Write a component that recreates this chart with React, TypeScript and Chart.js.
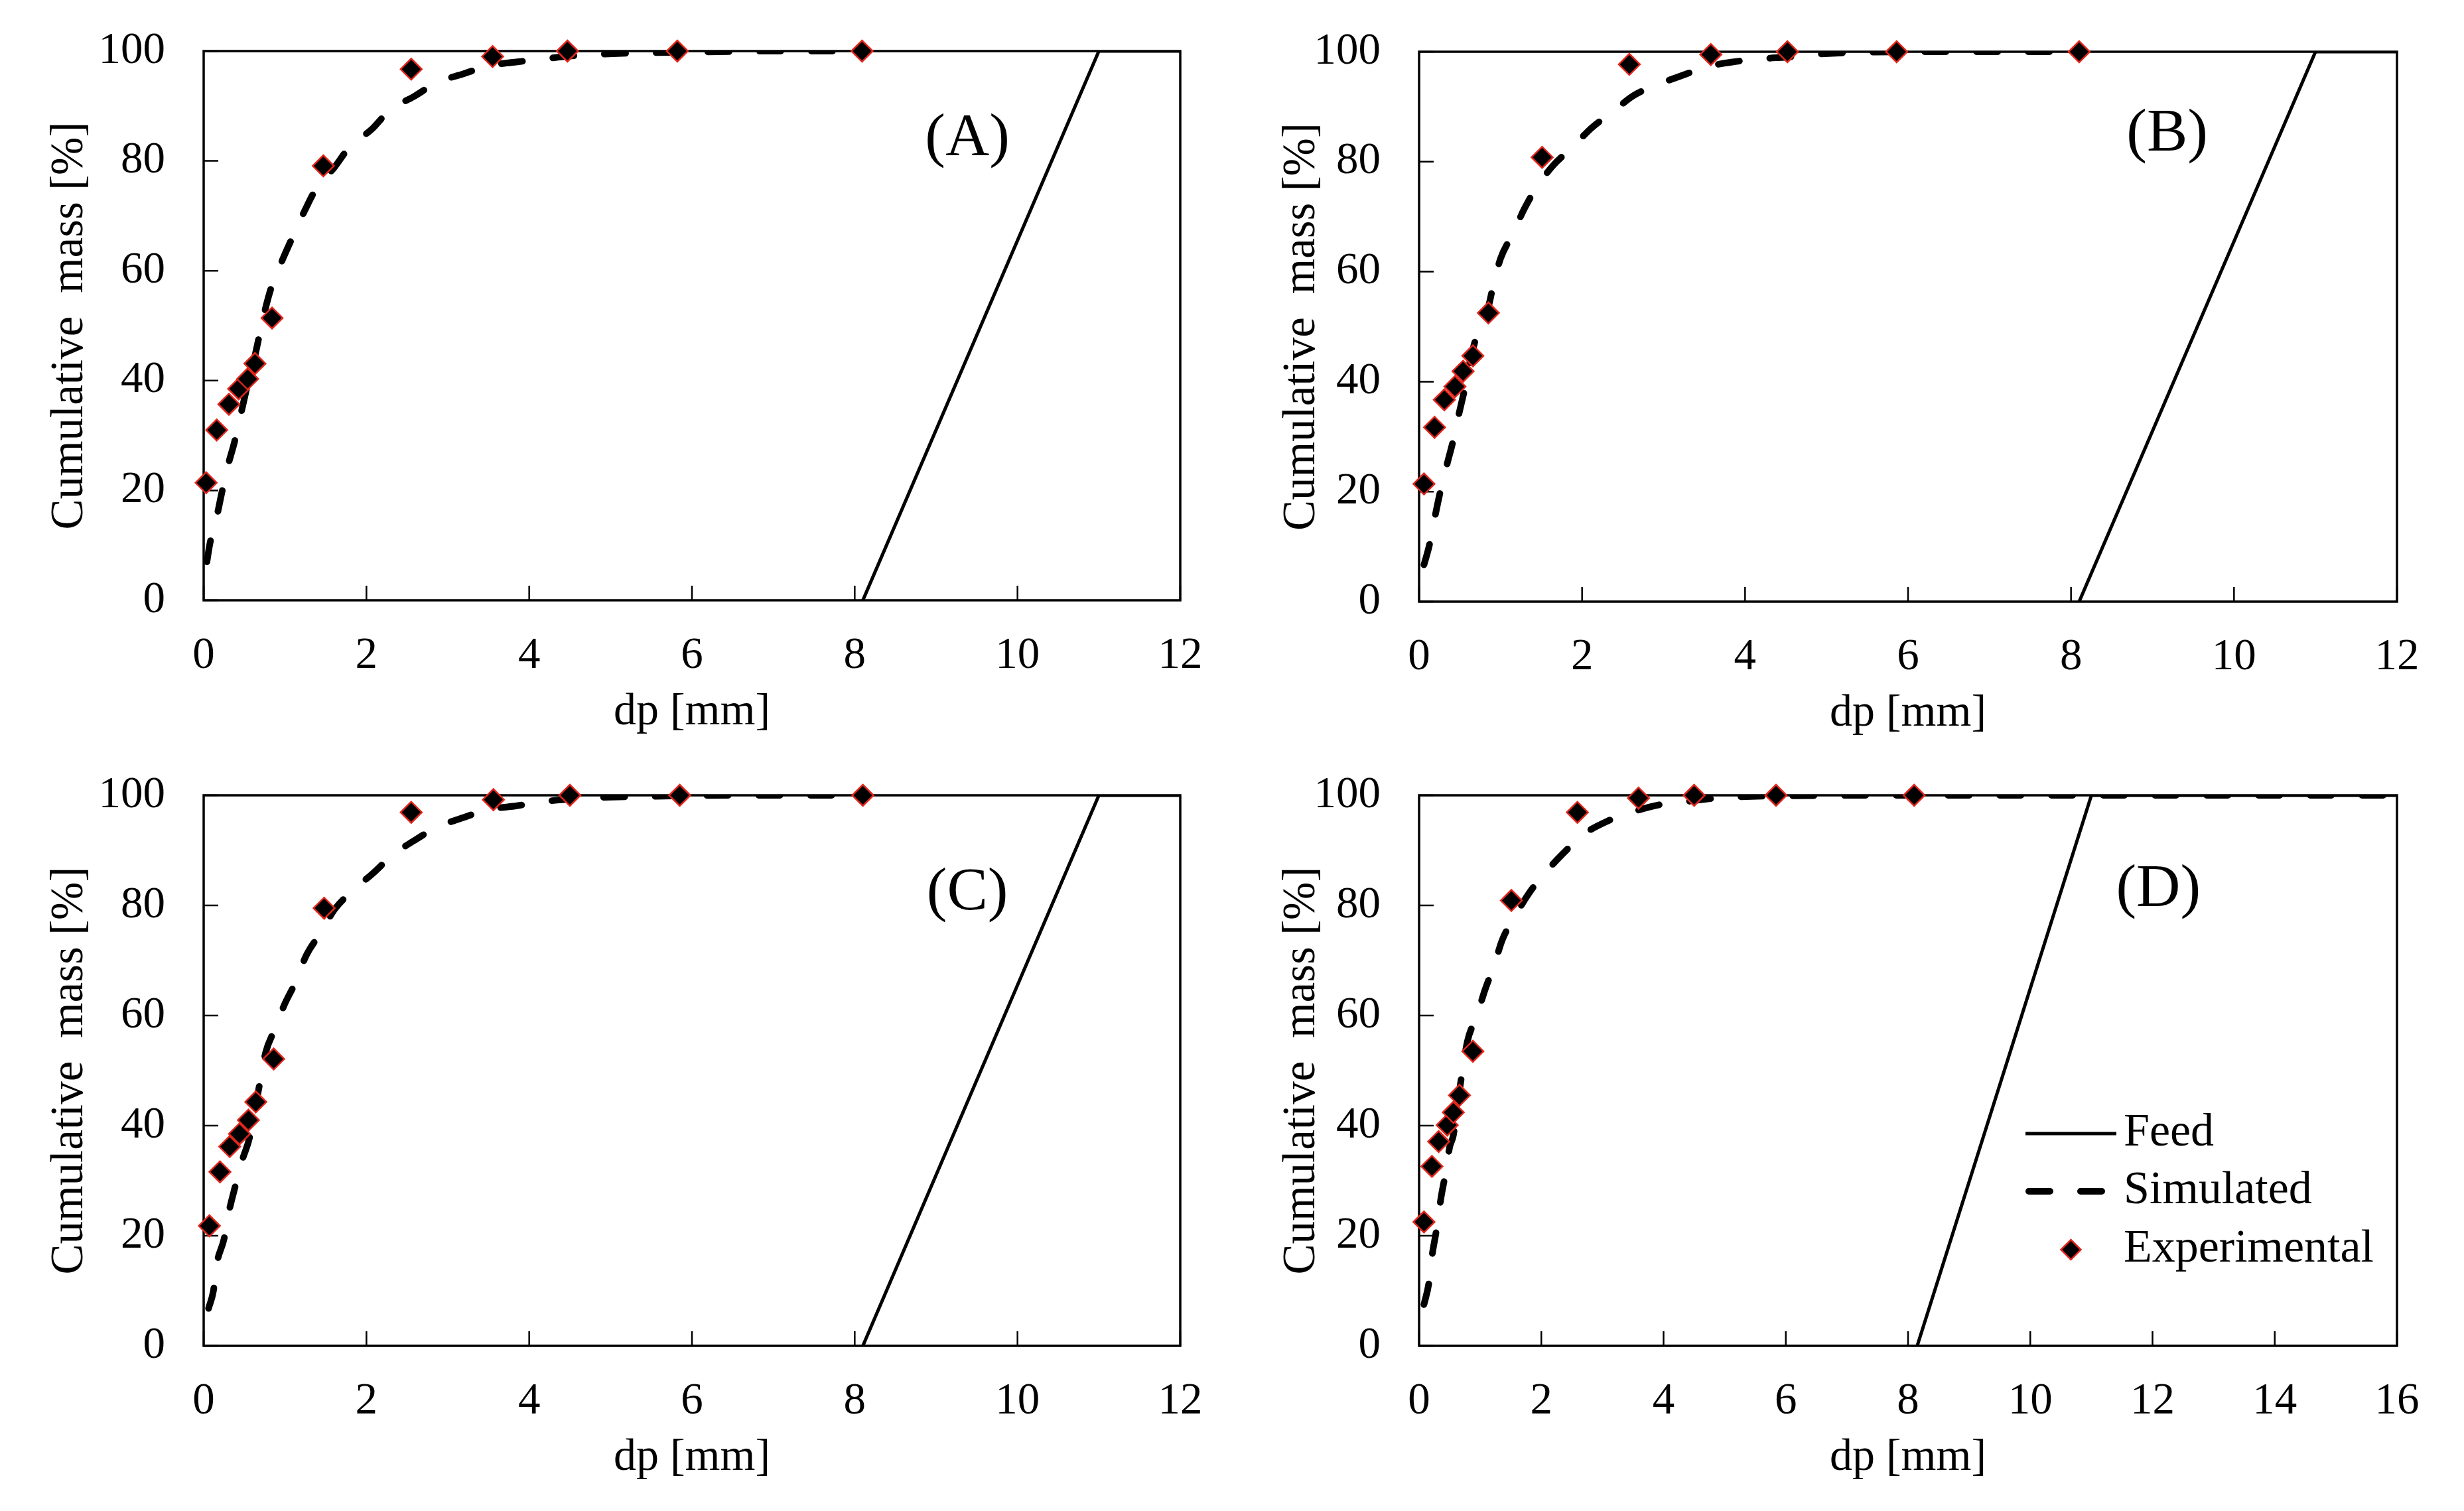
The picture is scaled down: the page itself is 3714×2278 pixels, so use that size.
import React, { useEffect, useRef } from 'react';
import { Chart, registerables } from 'chart.js';

Chart.register(...registerables);

const FONT = '"Liberation Serif", "Times New Roman", serif';
const W = 1857;
const H = 1139;

// Panel A
const expAX = [0.03, 0.16, 0.31, 0.43, 0.54, 0.63, 0.84, 1.47, 2.55, 3.55, 4.47, 5.82, 8.09];
const expAY = [21.4, 31.0, 35.7, 38.5, 40.3, 43.1, 51.4, 79.1, 96.7, 99.0, 100, 100, 100];
const simAX = [0.04, 0.07, 0.11, 0.16, 0.22, 0.3, 0.38, 0.46, 0.54, 0.61, 0.68, 0.75, 0.84, 0.98, 1.11, 1.24, 1.4, 1.6, 1.8, 2.06, 2.29, 2.58, 2.87, 3.18, 3.53, 3.84, 4.19, 4.6, 5.2, 6.0, 7.0, 8.1];
const simAY = [7, 9.8, 12.5, 15.2, 19.4, 24.6, 28.9, 34.1, 39.3, 43.2, 47.9, 52.6, 57.4, 62.4, 66.7, 70.9, 75.4, 78.7, 82.7, 85.7, 89.3, 91.7, 94.3, 95.8, 97.4, 98.0, 98.6, 99.2, 99.6, 99.8, 100, 100];

// Panel B
const expBX = [0.06, 0.19, 0.31, 0.44, 0.54, 0.66, 0.85, 1.51, 2.58, 3.58, 4.52, 5.86, 8.1];
const expBY = [21.4, 31.7, 36.7, 39.1, 41.9, 44.7, 52.5, 80.8, 97.7, 99.5, 100, 100, 100];
const simBX = [0.06, 0.125, 0.19, 0.26, 0.34, 0.42, 0.49, 0.56, 0.63, 0.7, 0.78, 0.85, 0.91, 1.0, 1.15, 1.29, 1.44, 1.65, 1.88, 2.12, 2.37, 2.63, 2.92, 3.25, 3.54, 3.88, 4.19, 4.58, 4.83, 5.2, 6.5, 8.1];
const simBY = [6.7, 10.2, 15.1, 20, 24.8, 29.4, 34.2, 38.7, 44, 48, 51, 53.6, 57.5, 62.4, 66.9, 71.4, 75.3, 79.4, 82.6, 86.2, 89, 92, 94, 95.8, 97.3, 98.2, 98.7, 99.1, 99.5, 99.8, 100, 100];

// Panel C
const expCX = [0.07, 0.2, 0.32, 0.44, 0.55, 0.64, 0.86, 1.48, 2.55, 3.56, 4.5, 5.85, 8.1];
const expCY = [21.8, 31.6, 36.2, 38.5, 41, 44.3, 52.1, 79.5, 96.9, 99.2, 100, 100, 100];
const simCX = [0.06, 0.12, 0.16, 0.25, 0.31, 0.39, 0.48, 0.56, 0.63, 0.7, 0.76, 0.87, 0.99, 1.13, 1.26, 1.44, 1.61, 1.84, 2.07, 2.32, 2.61, 2.88, 3.2, 3.5, 3.85, 4.15, 4.57, 4.82, 5.5, 6.5, 8.1];
const simCY = [6.8, 10, 14.8, 19.4, 24.3, 29.1, 34, 37.6, 43, 48.5, 53.2, 57.4, 61.9, 66.1, 70.9, 75.1, 79.3, 82.8, 85.7, 89.1, 92, 94.3, 96, 97.4, 98.1, 98.8, 99.4, 99.6, 99.8, 100, 100];

// Panel D
const expDX = [0.08, 0.21, 0.32, 0.46, 0.56, 0.66, 0.88, 1.51, 2.59, 3.59, 4.5, 5.84, 8.1];
const expDY = [22.5, 32.6, 37.1, 40.1, 42.4, 45.5, 53.5, 80.9, 96.9, 99.5, 100, 100, 100];
const simDX = [0.08, 0.16, 0.21, 0.28, 0.36, 0.43, 0.5, 0.56, 0.63, 0.71, 0.79, 0.94, 1.08, 1.23, 1.36, 1.56, 1.81, 2.06, 2.39, 2.69, 3.08, 3.47, 3.94, 4.33, 4.78, 5.19, 6, 8, 16];
const simDY = [7.5, 11.4, 16.2, 20.8, 27, 31.2, 36.1, 38.2, 44, 50, 55.3, 59.8, 64.7, 69.2, 73.7, 77.9, 82.4, 85.9, 89.8, 92.9, 95.3, 96.9, 98.3, 98.8, 99.4, 99.7, 99.9, 100, 100];

// Feed
const feedX = [8.1, 11, 12];
const feedY = [0, 100, 100];
const feedDX = [8.15, 11, 16];
const feedDY = [0, 100, 100];

const legendLabels = ['Feed', 'Simulated', 'Experimental'];

const zip = (xs: number[], ys: number[]) => xs.map((x, i) => ({ x, y: ys[i] }));

const DASH = [32, 46];
const RED = '#e3261c';

interface PanelProps {
  label: string;
  expX: number[];
  expY: number[];
  simX: number[];
  simY: number[];
  fX: number[];
  fY: number[];
  xMax: number;
  left: number;
  top: number;
  plotLeft: number;
  plotRight: number;
  plotTop: number;
  plotBottom: number;
  labelFx: number;
  labelFy: number;
  legend?: boolean;
}

const Panel: React.FC<PanelProps> = (p) => {
  const ref = useRef<HTMLCanvasElement>(null);

  useEffect(() => {
    if (!ref.current) return;
    const decor = {
      id: 'decor',
      beforeDatasetsDraw(chart: any) {
        const { ctx, chartArea: a, scales } = chart;
        ctx.save();
        ctx.strokeStyle = '#000';
        ctx.lineWidth = 2.5;
        ctx.beginPath();
        scales.x.ticks.forEach((t: any) => {
          const px = scales.x.getPixelForValue(t.value);
          ctx.moveTo(px, a.bottom);
          ctx.lineTo(px, a.bottom - 22);
        });
        scales.y.ticks.forEach((t: any) => {
          const py = scales.y.getPixelForValue(t.value);
          ctx.moveTo(a.left, py);
          ctx.lineTo(a.left + 22, py);
        });
        ctx.stroke();
        ctx.lineWidth = 3.5;
        ctx.strokeRect(a.left, a.top, a.right - a.left, a.bottom - a.top);
        ctx.restore();
      },
      afterDraw(chart: any) {
        const { ctx, chartArea: a } = chart;
        ctx.save();
        ctx.fillStyle = '#000';
        ctx.font = `92px ${FONT}`;
        ctx.textAlign = 'center';
        ctx.textBaseline = 'middle';
        ctx.fillText(p.label, a.left + p.labelFx * (a.right - a.left), a.top + p.labelFy * (a.bottom - a.top));
        if (p.legend) {
          const x0 = a.left + 914;
          const x1 = a.left + 1051;
          const tx = a.left + 1062;
          const rows = [a.top + 510, a.top + 597, a.top + 685];
          ctx.strokeStyle = '#000';
          ctx.lineWidth = 5;
          ctx.beginPath();
          ctx.moveTo(x0, rows[0]);
          ctx.lineTo(x1, rows[0]);
          ctx.stroke();
          ctx.lineWidth = 10;
          ctx.lineCap = 'round';
          ctx.setLineDash(DASH);
          ctx.beginPath();
          ctx.moveTo(x0 + 5, rows[1]);
          ctx.lineTo(x1, rows[1]);
          ctx.stroke();
          ctx.setLineDash([]);
          const cx = (x0 + x1) / 2;
          const r = 15;
          ctx.beginPath();
          ctx.moveTo(cx - r, rows[2]);
          ctx.lineTo(cx, rows[2] - r);
          ctx.lineTo(cx + r, rows[2]);
          ctx.lineTo(cx, rows[2] + r);
          ctx.closePath();
          ctx.fillStyle = '#000';
          ctx.fill();
          ctx.lineWidth = 2.5;
          ctx.strokeStyle = RED;
          ctx.stroke();
          ctx.fillStyle = '#000';
          ctx.font = `70px ${FONT}`;
          ctx.textAlign = 'left';
          legendLabels.forEach((t, i) => ctx.fillText(t, tx, rows[i]));
        }
        ctx.restore();
      },
    };

    const tickFont = { family: FONT, size: 67 };
    const chart = new Chart(ref.current, {
      type: 'scatter',
      data: {
        datasets: [
          {
            label: 'Experimental',
            data: zip(p.expX, p.expY),
            showLine: false,
            pointStyle: 'rectRot',
            pointRadius: 16,
            pointHoverRadius: 16,
            pointBackgroundColor: '#000',
            pointBorderColor: RED,
            pointBorderWidth: 2.5,
            clip: false,
          },
          {
            label: 'Simulated',
            data: zip(p.simX, p.simY),
            showLine: true,
            borderColor: '#000',
            borderWidth: 10,
            borderDash: DASH,
            borderCapStyle: 'round',
            cubicInterpolationMode: 'monotone',
            tension: 0.4,
            pointRadius: 0,
            pointHoverRadius: 0,
          },
          {
            label: 'Feed',
            data: zip(p.fX, p.fY),
            showLine: true,
            borderColor: '#000',
            borderWidth: 5,
            tension: 0,
            pointRadius: 0,
            pointHoverRadius: 0,
          },
        ],
      },
      options: {
        animation: false,
        responsive: false,
        devicePixelRatio: 1,
        events: [],
        layout: {
          padding: {
            left: 0,
            top: p.plotTop,
            right: W - p.plotRight,
            bottom: H - p.plotBottom - 210,
          },
        },
        plugins: {
          legend: { display: false },
          tooltip: { enabled: false },
        },
        scales: {
          x: {
            type: 'linear',
            min: 0,
            max: p.xMax,
            grid: { display: false, drawTicks: true, tickLength: 44 },
            border: { display: false },
            ticks: { stepSize: 2, color: '#000', font: tickFont, padding: 0, maxRotation: 0, autoSkip: false },
            title: {
              display: true,
              text: 'dp [mm]',
              color: '#000',
              font: { family: FONT, size: 68 },
              padding: { top: 0, bottom: 0 },
            },
            afterFit: (s: any) => {
              s.height = 210;
            },
          },
          y: {
            type: 'linear',
            min: 0,
            max: 100,
            grid: { display: false, drawTicks: true, tickLength: 58 },
            border: { display: false },
            ticks: { stepSize: 20, color: '#000', font: tickFont, padding: 0 },
            title: {
              display: true,
              text: 'Cumulative  mass [%]',
              color: '#000',
              font: { family: FONT, size: 69 },
              padding: { top: 64, bottom: 0 },
            },
            afterFit: (s: any) => {
              s.width = p.plotLeft;
            },
          },
        },
      },
      plugins: [decor],
    } as any);

    return () => {
      chart.destroy();
    };
  }, [p]);

  return (
    <canvas
      ref={ref}
      width={W}
      height={H}
      style={{ position: 'absolute', left: p.left, top: p.top, width: W, height: H }}
    />
  );
};

const panels: PanelProps[] = [
  { label: '(A)', expX: expAX, expY: expAY, simX: simAX, simY: simAY, fX: feedX, fY: feedY, xMax: 12, left: 0, top: 0, plotLeft: 307, plotRight: 1779, plotTop: 77, plotBottom: 905, labelFx: 0.782, labelFy: 0.16 },
  { label: '(B)', expX: expBX, expY: expBY, simX: simBX, simY: simBY, fX: feedX, fY: feedY, xMax: 12, left: W, top: 0, plotLeft: 282, plotRight: 1756, plotTop: 78, plotBottom: 907, labelFx: 0.765, labelFy: 0.15 },
  { label: '(C)', expX: expCX, expY: expCY, simX: simCX, simY: simCY, fX: feedX, fY: feedY, xMax: 12, left: 0, top: H, plotLeft: 307, plotRight: 1779, plotTop: 60, plotBottom: 890, labelFx: 0.782, labelFy: 0.178 },
  { label: '(D)', expX: expDX, expY: expDY, simX: simDX, simY: simDY, fX: feedDX, fY: feedDY, xMax: 16, left: W, top: H, plotLeft: 282, plotRight: 1756, plotTop: 60, plotBottom: 890, labelFx: 0.756, labelFy: 0.172, legend: true },
];

export default function App() {
  return (
    <div style={{ position: 'absolute', left: 0, top: 0, width: 3714, height: 2278, background: '#fff', overflow: 'hidden' }}>
      {panels.map((p) => (
        <Panel key={p.label} {...p} />
      ))}
    </div>
  );
}
